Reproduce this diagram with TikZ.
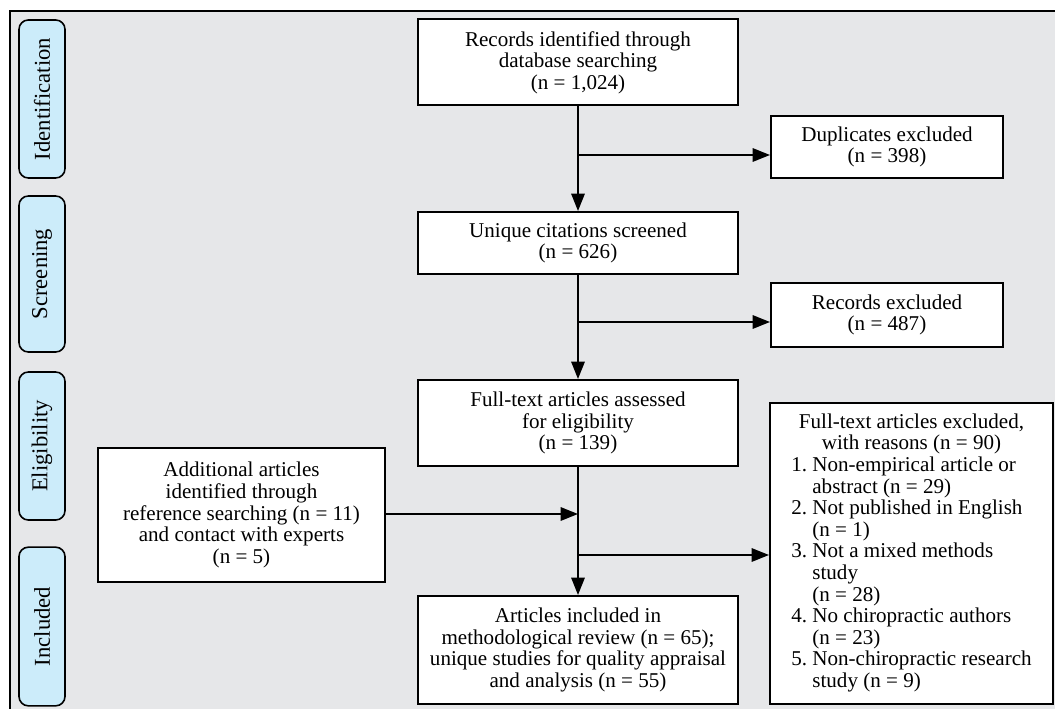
\documentclass[tikz,border=0pt]{standalone}
\usepackage{fontspec}
\setmainfont{Liberation Serif}
\usepackage{tikz}
\usetikzlibrary{arrows.meta,positioning}
\definecolor{panelgray}{RGB}{230,231,233}
\definecolor{phaseblue}{RGB}{204,236,250}
\tikzset{
	box/.style={draw,rectangle,align=center,fill=white,line width=1.5pt,inner sep=2pt,font=\fontsize{15.8}{16.2}\selectfont},
	phase/.style={draw,rectangle,rounded corners=7pt,fill=phaseblue,line width=1.2pt,rotate=90,minimum height=34.5pt,inner sep=0pt,font=\fontsize{17}{18}\selectfont},
	arr/.style={line width=1.5pt,-{Triangle[length=13pt,width=10pt]}},
	line/.style={line width=1.5pt}
}

\begin{document}
\begin{tikzpicture}[x=0.75pt,y=-0.75pt]
            \useasboundingbox (0,0) rectangle (1055,709);
            \fill[panelgray] (10,11) rectangle (1055,709);
            \draw[line width=0.8pt] (10,709) -- (10,11) -- (1055,11);
            % phases
            \node[phase,minimum width=118.5pt] (ident) at (42,99) {Identification};
            \node[phase,minimum width=117pt] (screen) at (42,274) {Screening};
            \node[phase,minimum width=111pt] (elig) at (42,446) {Eligibility};
            \node[phase,minimum width=119pt] (incl) at (42,626.5) {Included};
            % boxes
            \node[box,minimum width=240pt,minimum height=64.5pt] (records) at (578,62.5) {Records identified through\\database searching\\(n = 1,024)};
            \node[box,minimum width=174pt,minimum height=46.5pt] (dup) at (887,147) {Duplicates excluded\\(n = 398)};
            \node[box,minimum width=240pt,minimum height=46.5pt] (unique) at (578,243) {Unique citations screened\\(n = 626)};
            \node[box,minimum width=174pt,minimum height=48pt] (recex) at (887,315) {Records excluded\\(n = 487)};
            \node[box,minimum width=240pt,minimum height=64.5pt] (fulltext) at (578,423) {Full-text articles assessed\\for eligibility\\(n = 139)};
            \node[box,minimum width=215pt,minimum height=100.5pt] (additional) at (241.5,515) {Additional articles\\identified through\\reference searching (n = 11)\\and contact with experts\\(n = 5)};
            \node[box,minimum width=240pt,minimum height=81pt] (included) at (578,650) {Articles included in\\methodological review (n = 65);\\unique studies for quality appraisal\\and analysis (n = 55)};
            \node[box,minimum width=212.25pt,minimum height=225.75pt] (excluded) at (911.5,553.5) {%
              \begin{tabular}{@{}r@{~}l@{}}
              \multicolumn{2}{@{}c@{}}{Full-text articles excluded,}\\
              \multicolumn{2}{@{}c@{}}{with reasons (n = 90)}\\
              1. & Non-empirical article or\\
                 & abstract (n = 29)\\
              2. & Not published in English\\
                 & (n = 1)\\
              3. & Not a mixed methods\\
                 & study\\
                 & (n = 28)\\
              4. & No chiropractic authors\\
                 & (n = 23)\\
              5. & Non-chiropractic research\\
                 & study (n = 9)
              \end{tabular}};
            % junctions
            \coordinate (j1) at (578,155);
            \coordinate (j2) at (578,322);
            \coordinate (j3) at (578,514);
            \coordinate (j4) at (578,555);
            \draw[arr] (records) -- (unique);
            \draw[arr] (j1) -- (dup.west |- j1);
            \draw[arr] (unique) -- (fulltext);
            \draw[arr] (j2) -- (recex.west |- j2);
            \draw[arr] (fulltext) -- (included);
            \draw[arr] (additional.east |- j3) -- (j3);
            \draw[arr] (j4) -- (excluded.west |- j4);
        \end{tikzpicture}
\end{document}
